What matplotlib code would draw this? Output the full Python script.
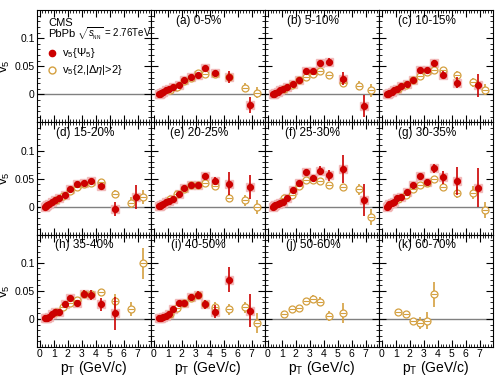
import matplotlib.pyplot as plt
import numpy as np
from matplotlib.ticker import MultipleLocator

plt.rcParams["font.family"] = ["Liberation Sans", "DejaVu Sans"]
plt.rcParams["mathtext.fontset"] = "custom"
plt.rcParams["mathtext.rm"] = "Liberation Sans"
plt.rcParams["mathtext.it"] = "Liberation Sans:italic"

# pT bin centres (GeV/c)
pt_psi = [0.35, 0.45, 0.55, 0.7, 0.9, 1.1, 1.4, 1.8, 2.2, 2.7, 3.2, 3.7, 4.4, 5.4, 6.9]
pt_two = [1.15, 1.7, 2.2, 2.7, 3.2, 3.7, 4.4, 5.4, 6.5, 7.4]

labels = ["(a) 0-5%", "(b) 5-10%", "(c) 10-15%", "(d) 15-20%", "(e) 20-25%",
          "(f) 25-30%", "(g) 30-35%", "(h) 35-40%", "(i) 40-50%", "(j) 50-60%",
          "(k) 60-70%"]

# v5{Psi5}
psi_a = [0.001, 0.001, 0.002, 0.004, 0.007, 0.009, 0.013, 0.017, 0.025, 0.031, 0.034, 0.047, 0.038, 0.031, -0.019]
psi_b = [0.001, 0.001, 0.002, 0.004, 0.007, 0.010, 0.014, 0.018, 0.026, 0.041, 0.042, 0.055, 0.058, 0.028, -0.021]
psi_c = [0.001, 0.001, 0.002, 0.004, 0.007, 0.010, 0.015, 0.019, 0.025, 0.043, 0.043, 0.056, 0.035, 0.021, 0.016]
psi_d = [0.000, 0.001, 0.003, 0.005, 0.008, 0.011, 0.016, 0.021, 0.031, 0.041, 0.042, 0.046, 0.036, -0.004, 0.017]
psi_e = [0.001, 0.002, 0.003, 0.005, 0.008, 0.010, 0.013, 0.023, 0.034, 0.039, 0.038, 0.054, 0.046, 0.041, 0.035]
psi_f = [0.000, 0.001, 0.003, 0.004, 0.006, 0.009, 0.015, 0.029, 0.042, 0.062, 0.051, 0.064, 0.056, 0.067, 0.012]
psi_g = [0.000, 0.002, 0.004, 0.006, 0.008, 0.015, 0.017, 0.026, 0.039, 0.055, 0.044, 0.068, 0.052, 0.046, 0.034]
psi_h = [0.002, 0.002, 0.001, 0.003, 0.009, 0.012, 0.013, 0.026, 0.037, 0.029, 0.045, 0.043, 0.026, 0.010]
psi_i = [0.001, 0.001, 0.002, 0.004, 0.006, 0.009, 0.018, 0.029, 0.029, 0.039, 0.043, 0.026, 0.013, 0.070, 0.015]

psi_err_a = [0.001, 0.001, 0.001, 0.001, 0.001, 0.001, 0.001, 0.001, 0.002, 0.002, 0.003, 0.003, 0.004, 0.010, 0.015]
psi_err_b = [0.001, 0.001, 0.001, 0.001, 0.001, 0.001, 0.001, 0.002, 0.002, 0.003, 0.003, 0.005, 0.006, 0.012, 0.020]
psi_err_c = [0.001, 0.001, 0.001, 0.001, 0.001, 0.001, 0.001, 0.002, 0.002, 0.003, 0.003, 0.005, 0.006, 0.010, 0.020]
psi_err_d = [0.001, 0.001, 0.001, 0.001, 0.001, 0.001, 0.002, 0.002, 0.002, 0.003, 0.003, 0.004, 0.005, 0.012, 0.022]
psi_err_e = [0.001, 0.001, 0.001, 0.001, 0.001, 0.001, 0.002, 0.002, 0.002, 0.003, 0.003, 0.006, 0.007, 0.020, 0.022]
psi_err_f = [0.001, 0.001, 0.001, 0.001, 0.001, 0.002, 0.002, 0.002, 0.003, 0.004, 0.005, 0.008, 0.010, 0.025, 0.028]
psi_err_g = [0.001, 0.001, 0.001, 0.001, 0.001, 0.002, 0.002, 0.002, 0.003, 0.004, 0.006, 0.008, 0.012, 0.025, 0.035]
psi_err_h = [0.001, 0.001, 0.001, 0.001, 0.002, 0.002, 0.002, 0.003, 0.003, 0.004, 0.007, 0.009, 0.012, 0.030]
psi_err_i = [0.001, 0.001, 0.001, 0.001, 0.002, 0.002, 0.002, 0.003, 0.003, 0.005, 0.007, 0.008, 0.012, 0.022, 0.030]

# v5{2,|deta|>2}
two_a = [0.008, 0.013, 0.023, 0.029, 0.038, 0.037, 0.037, 0.031, 0.012, 0.003]
two_b = [0.009, 0.016, 0.025, 0.031, 0.037, 0.042, 0.034, 0.021, 0.015, 0.007]
two_c = [0.009, 0.016, 0.025, 0.032, 0.039, 0.043, 0.043, 0.035, 0.022, 0.008]
two_d = [0.011, 0.019, 0.028, 0.035, 0.041, 0.042, 0.044, 0.023, 0.007, 0.017]
two_e = [0.013, 0.022, 0.032, 0.038, 0.039, 0.042, 0.036, 0.016, 0.011, -0.001]
two_f = [0.015, 0.021, 0.036, 0.048, 0.048, 0.046, 0.038, 0.035, 0.031, -0.018]
two_g = [0.013, 0.021, 0.032, 0.039, 0.042, 0.050, 0.035, 0.025, 0.025, -0.006]
two_h = [0.012, 0.022, 0.029, 0.034, 0.045, 0.044, 0.048, 0.032, 0.018, 0.099]
two_i = [0.008, 0.019, 0.029, 0.038, 0.042, 0.027, 0.021, 0.017, 0.021, -0.007]
two_j = [0.009, 0.017, 0.019, 0.032, 0.035, 0.031, 0.006, 0.011]
two_k = [0.013, 0.008, -0.004, -0.007, -0.003, 0.044]

two_err_a = [0.001, 0.001, 0.001, 0.002, 0.002, 0.002, 0.003, 0.004, 0.008, 0.010]
two_err_b = [0.001, 0.001, 0.001, 0.002, 0.002, 0.002, 0.003, 0.005, 0.008, 0.012]
two_err_c = [0.001, 0.001, 0.001, 0.002, 0.002, 0.002, 0.003, 0.007, 0.008, 0.010]
two_err_d = [0.001, 0.001, 0.001, 0.002, 0.002, 0.002, 0.003, 0.006, 0.010, 0.012]
two_err_e = [0.001, 0.001, 0.001, 0.002, 0.002, 0.002, 0.003, 0.007, 0.010, 0.012]
two_err_f = [0.001, 0.001, 0.002, 0.002, 0.002, 0.003, 0.004, 0.006, 0.010, 0.014]
two_err_g = [0.001, 0.001, 0.002, 0.002, 0.002, 0.003, 0.004, 0.010, 0.012, 0.015]
two_err_h = [0.001, 0.001, 0.002, 0.002, 0.003, 0.004, 0.005, 0.012, 0.012, 0.028]
two_err_i = [0.001, 0.001, 0.002, 0.002, 0.003, 0.004, 0.010, 0.010, 0.010, 0.018]
two_err_j = [0.002, 0.002, 0.002, 0.004, 0.007, 0.008, 0.009, 0.018]
two_err_k = [0.003, 0.004, 0.006, 0.010, 0.015, 0.022]

psi_vals = [psi_a, psi_b, psi_c, psi_d, psi_e, psi_f, psi_g, psi_h, psi_i, None, None]
psi_errs = [psi_err_a, psi_err_b, psi_err_c, psi_err_d, psi_err_e, psi_err_f, psi_err_g,
            psi_err_h, psi_err_i, None, None]
two_vals = [two_a, two_b, two_c, two_d, two_e, two_f, two_g, two_h, two_i, two_j, two_k]
two_errs = [two_err_a, two_err_b, two_err_c, two_err_d, two_err_e, two_err_f, two_err_g,
            two_err_h, two_err_i, two_err_j, two_err_k]

red = "#cc0000"
gold = "#d4a040"
pink = "#f0b0b0"

fig, axes = plt.subplots(3, 4, figsize=(4.98, 3.76), dpi=100, sharex=True, sharey=True)
fig.subplots_adjust(left=0.074, right=0.99, top=0.973, bottom=0.077, wspace=0, hspace=0)

for ax in axes.flat:
    ax.set_xlim(-0.2, 7.95)
    ax.set_ylim(-0.05, 0.15)
    ax.axhline(0, color="gray", lw=1.0, zorder=1)
    ax.xaxis.set_major_locator(MultipleLocator(1))
    ax.xaxis.set_minor_locator(MultipleLocator(0.2))
    ax.yaxis.set_major_locator(MultipleLocator(0.05))
    ax.yaxis.set_minor_locator(MultipleLocator(0.01))
    ax.tick_params(which="both", direction="in", top=True, right=True, labelsize=7.5, pad=1.5)
    ax.tick_params(which="major", length=5)
    ax.tick_params(which="minor", length=2.5)
    ax.set_yticks([0, 0.05, 0.1])
    ax.set_yticklabels(["0", "0.05", "0.1"])

for i, ax in enumerate(axes.flat[1:]):
    two = two_vals[i]
    n = len(two)
    ax.errorbar(pt_two[:n], two, yerr=two_errs[i], fmt="o", ms=5, mfc="white",
                mec=gold, mew=0.9, ecolor=gold, elinewidth=1.2, capsize=0, zorder=3)
    ax.plot(pt_two[:n], two, "_", ms=5, color=gold, mew=0.8, zorder=4)
    psi = psi_vals[i]
    if psi is not None:
        m = len(psi)
        ax.plot(pt_psi[:m], psi, "s", ms=6, color=pink, alpha=0.8, zorder=2)
        ax.errorbar(pt_psi[:m], psi, yerr=psi_errs[i], fmt="o", ms=4.2, color=red,
                    ecolor=red, elinewidth=1.2, capsize=0, zorder=5)
    ax.text(0.42, 0.905, labels[i], transform=ax.transAxes, ha="center", va="center",
            fontsize=8.5)

# legend panel
ax0 = axes[0, 0]
ax0.text(0.1, 0.885, "CMS", transform=ax0.transAxes, fontsize=8, va="center")
ax0.text(0.1, 0.79, "PbPb", transform=ax0.transAxes, fontsize=8, va="center")
ax0.text(0.355, 0.79, r"$\sqrt{s_{_{\rm NN}}}$ = 2.76TeV", transform=ax0.transAxes,
         fontsize=7, va="center")
ax0.plot([0.13], [0.62], "o", ms=4.5, color=red, transform=ax0.transAxes)
ax0.text(0.22, 0.62, r"v$_5${$\Psi_5$}", transform=ax0.transAxes, fontsize=8, va="center")
ax0.plot([0.13], [0.47], "o", ms=5, mfc="white", mec=gold, transform=ax0.transAxes)
ax0.text(0.22, 0.47, r"v$_5${2,|$\Delta\eta$|>2}", transform=ax0.transAxes, fontsize=8,
         va="center")

for ax in axes[:, 0]:
    ax.set_ylabel(r"v$_5$", fontsize=9.5)
    ax.yaxis.set_label_coords(-0.215, 0.5)
for ax in axes[-1, :]:
    ax.set_xticks(range(8))
    ax.set_xlabel(r"p$_{\rm T}$ (GeV/c)", fontsize=10, labelpad=0)

fig.savefig("out.png", dpi=100)
